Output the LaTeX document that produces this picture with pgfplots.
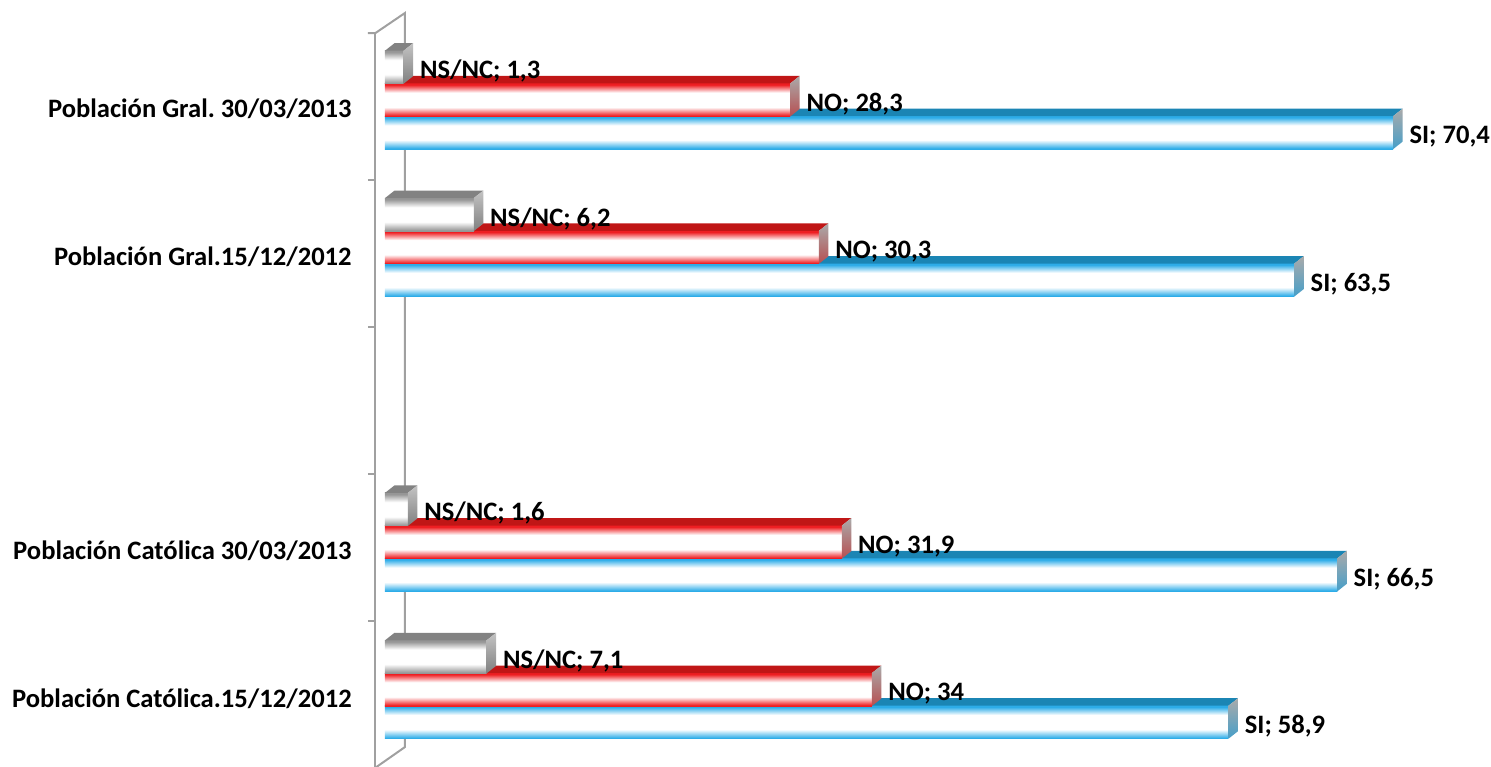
\documentclass[border=0pt]{standalone}
\usepackage{pgfplots}
\pgfplotsset{compat=1.18}
\usepackage{pgfplotstable}
\usepackage{fontspec}
\setmainfont{Carlito}
\newcommand\lbl{\fontsize{13.3}{16}\selectfont\bfseries\frenchspacing}

\definecolor{blueEdge}{RGB}{45,172,232}
\definecolor{blueTop}{RGB}{27,133,180}
\definecolor{redEdge}{RGB}{238,30,34}
\definecolor{redTop}{RGB}{192,22,22}
\definecolor{grayEdge}{RGB}{150,150,150}
\definecolor{grayTop}{RGB}{130,130,130}
\definecolor{sideGray}{RGB}{170,170,170}
\definecolor{axisGray}{RGB}{160,160,160}

\pgfdeclareverticalshading[barcol]{barshade}{100bp}{color(0bp)=(barcol); color(26bp)=(barcol); color(39bp)=(white); color(61bp)=(white); color(73bp)=(barcol); color(100bp)=(barcol)}

% y: 0 = Catolica 15/12/2012, 1 = Catolica 30/03/2013, 3 = Gral 15/12/2012, 4 = Gral 30/03/2013
\pgfplotstableread{
y v
0 58.9
1 66.5
3 63.5
4 70.4
}\tblSI
\pgfplotstableread{
y v
0 34
1 31.9
3 30.3
4 28.3
}\tblNO
\pgfplotstableread{
y v
0 7.1
1 1.6
3 6.2
4 1.3
}\tblNS

\pgfdeclareplotmark{nothing}{}

\pgfplotsset{
  bar3d/.style n args={4}{% #1 front edge colour, #2 top face, #3 side top, #4 side bottom
    scatter, only marks, mark=nothing,
    visualization depends on={\thisrow{v} \as \barlen},
    scatter/@pre marker code/.code={%
      \colorlet{barcol}{#1}%
      \shade[shading=barshade, draw=none] ({-\barlen*7.16pt},0pt) rectangle (0pt,-16.5pt);
      \fill[#2, draw=none] ({-\barlen*7.16pt},0pt) -- (0pt,0pt) -- (4.75pt,3.75pt) -- ({-\barlen*7.16pt+4.75pt},3.75pt) -- cycle;
      \shade[top color=#3, bottom color=#4, draw=none] (0pt,0pt) -- (4.75pt,3.75pt) -- (4.75pt,-12.75pt) -- (0pt,-16.5pt) -- cycle;
    },
    scatter/@post marker code/.code={},
  },
  vlabel/.style={%
    xbar, bar shift=0pt, draw=none, fill=none,
    nodes near coords={#1; \pgfmathprintnumber{\pgfplotspointmeta}},
  },
}

\begin{document}
\begin{tikzpicture}
\begin{axis}[
  x=7.16pt, y=73.7pt,
  xmin=-0.663, xmax=75, ymin=-0.52, ymax=4.68,
  clip=false,
  hide x axis,
  axis y line*=left,
  y axis line style={draw=none},
  ytick={0,1,3,4},
  yticklabels={Población Católica.15/12/2012, Población Católica 30/03/2013, Población Gral.15/12/2012, Población Gral. 30/03/2013},
  major tick length=0pt,
  yticklabel style={inner sep=0pt, anchor=east, xshift=-11.75pt, yshift=-4.5pt, font=\lbl, text=black},
  bar width=0.224,
  /pgf/number format/use comma,
  /pgf/number format/assume math mode=true,
  every node near coord/.append style={anchor=west, inner sep=0pt, xshift=8pt, yshift=-2pt, text=black, font=\lbl},
]
% axis walls
\draw[axisGray, line width=1pt] (axis cs:-1.19,4.454) -- (axis cs:-0.663,4.454) -- (axis cs:1.397,4.59) -- (axis cs:1.397,-0.39) -- (axis cs:-0.663,-0.53);
\draw[axisGray, line width=1pt] (axis cs:-0.663,4.454) -- (axis cs:-0.663,-0.53);
\draw[axisGray, line width=1pt] (axis cs:-1.19,3.457) -- (axis cs:-0.663,3.457);
\draw[axisGray, line width=1pt] (axis cs:-1.19,2.459) -- (axis cs:-0.663,2.459);
\draw[axisGray, line width=1pt] (axis cs:-1.19,1.462) -- (axis cs:-0.663,1.462);
\draw[axisGray, line width=1pt] (axis cs:-1.19,0.465) -- (axis cs:-0.663,0.465);

% SI (anchored at top-right corner of the front face)
\addplot[bar3d={blueEdge}{blueTop}{sideGray}{blueEdge!70!gray}] table[x=v,y expr=\thisrow{y}-0.110]{\tblSI};
% NO
\addplot[bar3d={redEdge}{redTop}{sideGray}{redEdge!50!gray}] table[x=v,y expr=\thisrow{y}+0.112]{\tblNO};
% NS/NC
\addplot[bar3d={grayEdge}{grayTop}{sideGray!70}{grayEdge!85!black}] table[x=v,y expr=\thisrow{y}+0.334]{\tblNS};

% value labels
\addplot[vlabel={SI}] table[x=v,y expr=\thisrow{y}-0.222]{\tblSI};
\addplot[vlabel={NO}] table[x=v,y=y]{\tblNO};
\addplot[vlabel={NS/NC}] table[x=v,y expr=\thisrow{y}+0.222]{\tblNS};

\coordinate (bbll) at (axis cs:-26.885,-0.519);
\coordinate (bbur) at (axis cs:77.235,4.678);
\end{axis}
\pgfresetboundingbox
\path[use as bounding box] (bbll) rectangle (bbur);
\end{tikzpicture}
\end{document}
